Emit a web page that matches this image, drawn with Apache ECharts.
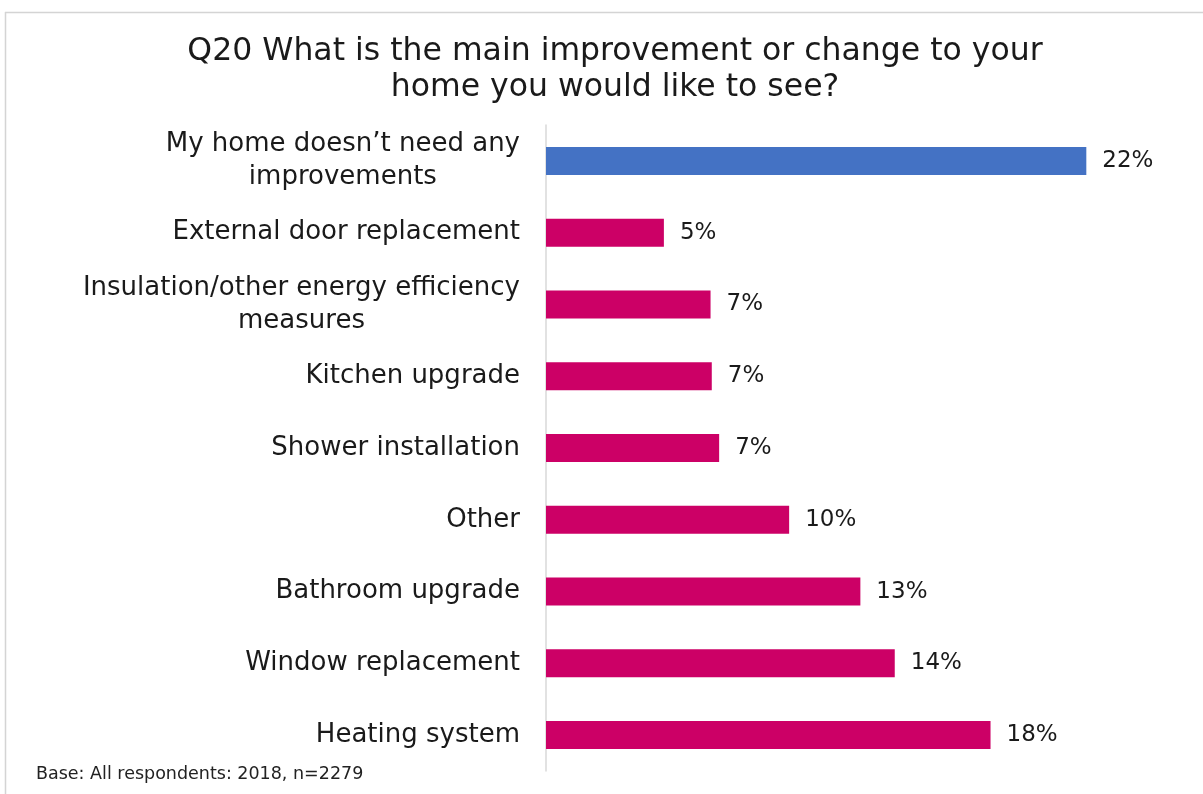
<!DOCTYPE html>
<html>
<head>
<meta charset="utf-8">
<script src="https://cdn.jsdelivr.net/npm/echarts@6/dist/echarts.min.js"></script>
<style>
    html, body { margin: 0; padding: 0; background: #fff; }
    #main { width: 1203px; height: 794px; }
</style>
</head>
<body>
<div id="main"></div>
<script>
var categories = [
    "My home doesn\u2019t need any\nimprovements",
    "External door replacement",
    "Insulation/other energy efficiency\nmeasures",
    "Kitchen upgrade",
    "Shower installation",
    "Other",
    "Bathroom upgrade",
    "Window replacement",
    "Heating system"
];
var values = [22, 4.8, 6.7, 6.75, 7.05, 9.9, 12.8, 14.2, 18.1];
var valueLabels = ['22%', '5%', '7%', '7%', '7%', '10%', '13%', '14%', '18%'];

var font = 'DejaVu Sans';
var myChart = echarts.init(document.getElementById('main'));

var option = {
    backgroundColor: '#fff',
    animation: false,
    title: {
        text: 'Q20 What is the main improvement or change to your\nhome you would like to see?',
        left: 610,
        top: 29,
        textAlign: 'center',
        textStyle: {
            fontFamily: font,
            fontSize: 31.5,
            fontWeight: 'normal',
            color: '#1a1a1a',
            lineHeight: 36
        }
    },
    graphic: [
        {
            type: 'line',
            shape: { x1: 5, y1: 12.5, x2: 1203, y2: 12.5 },
            style: { stroke: '#d4d4d4', lineWidth: 1.5 }
        },
        {
            type: 'line',
            shape: { x1: 5.5, y1: 12, x2: 5.5, y2: 794 },
            style: { stroke: '#d4d4d4', lineWidth: 1.5 }
        },
        {
            type: 'text',
            left: 36,
            top: 765,
            style: {
                text: 'Base: All respondents: 2018, n=2279',
                font: '17.5px "' + font + '"',
                fill: '#222'
            }
        }
    ],
    grid: {
        left: 546,
        top: 125,
        right: 43,
        bottom: 23
    },
    xAxis: {
        type: 'value',
        min: 0,
        max: 25,
        show: false,
        splitLine: { show: false }
    },
    yAxis: {
        type: 'category',
        inverse: true,
        data: categories,
        axisLine: { show: true, lineStyle: { color: '#d9d9d9', width: 1.5 } },
        axisTick: { show: false },
        axisLabel: {
            margin: 26,
            formatter: function(value) {
                return value.split('\n').map(function(line) {
                    return '{c|' + line + '}';
                }).join('\n');
            },
            rich: {
                c: {
                    align: 'center',
                    fontFamily: font,
                    fontSize: 26,
                    lineHeight: 33,
                    color: '#1a1a1a'
                }
            }
        }
    },
    series: [{
        type: 'bar',
        data: values,
        barWidth: 28,
        itemStyle: {
            color: function(params) {
                return params.dataIndex === 0 ? '#4472C4' : '#CC0066';
            }
        },
        label: {
            show: true,
            position: 'right',
            distance: 16,
            fontFamily: font,
            fontSize: 23,
            color: '#1a1a1a',
            formatter: function(params) {
                return valueLabels[params.dataIndex];
            }
        }
    }]
};

myChart.setOption(option);
</script>
</body>
</html>
